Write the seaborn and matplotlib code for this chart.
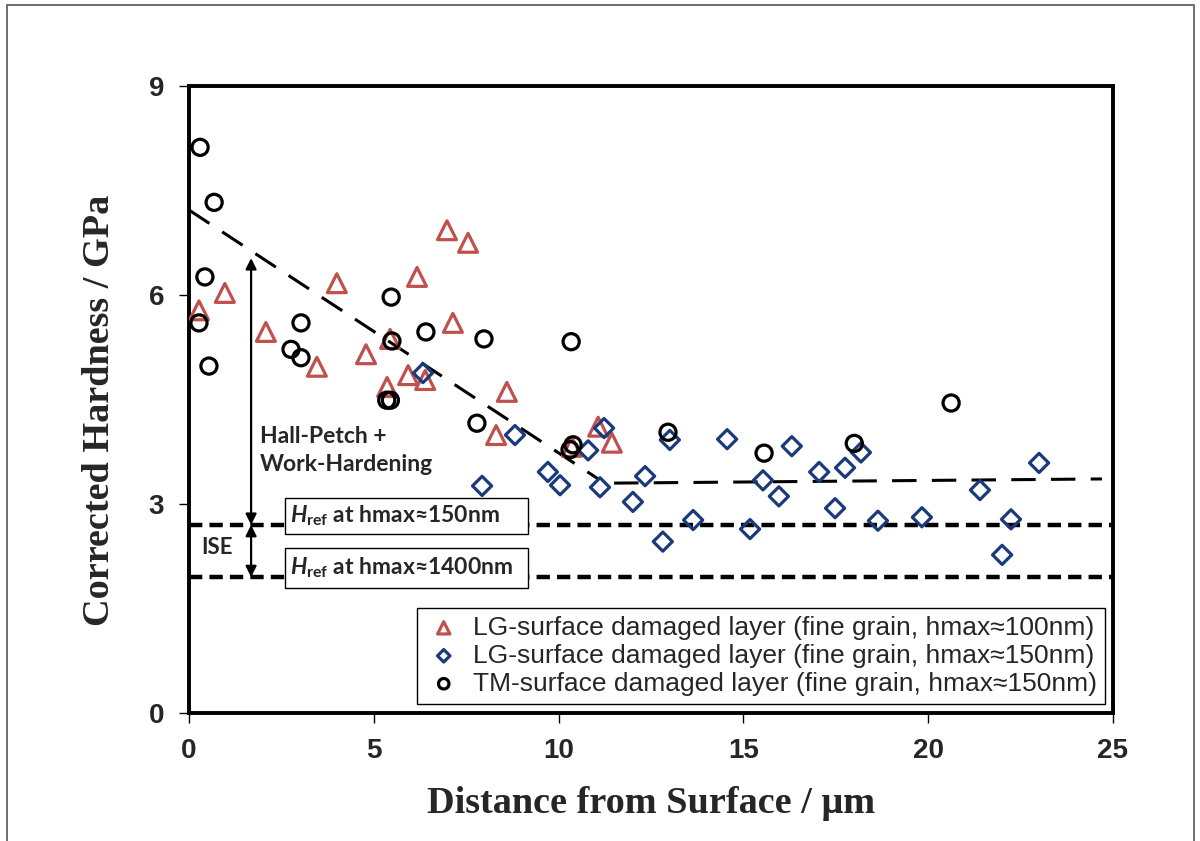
import matplotlib
matplotlib.use('Agg')
import pandas as pd
import matplotlib.pyplot as plt
import seaborn as sns
from matplotlib.patches import Rectangle

# LG-surface damaged layer, hmax~100nm (triangles)
lg100_x = [0.27, 0.97, 2.08, 3.46, 4.00, 4.79, 5.36, 5.44, 5.93, 6.17, 6.39,
           6.98, 7.14, 7.55, 8.31, 8.60, 10.36, 11.07, 11.44]
lg100_y = [5.78, 6.03, 5.47, 4.97, 6.17, 5.15, 4.68, 5.37, 4.85, 6.26, 4.78,
           6.93, 5.60, 6.75, 3.99, 4.61, 3.82, 4.11, 3.88]

# LG-surface damaged layer, hmax~150nm (diamonds)
lg150_x = [6.33, 7.93, 8.82, 9.71, 10.04, 10.80, 11.12, 11.23, 12.01, 12.34,
           12.82, 13.01, 13.64, 14.56, 15.18, 15.53, 15.96, 16.31, 17.05, 17.48,
           17.75, 18.18, 18.64, 19.83, 21.40, 22.00, 22.24, 23.00]
lg150_y = [4.88, 3.26, 3.99, 3.46, 3.27, 3.77, 3.24, 4.09, 3.03, 3.40,
           2.46, 3.92, 2.77, 3.93, 2.64, 3.34, 3.11, 3.83, 3.46, 2.94,
           3.52, 3.74, 2.76, 2.81, 3.20, 2.27, 2.78, 3.59]

# TM-surface damaged layer, hmax~150nm (circles)
tm150_x = [0.30, 0.68, 0.43, 0.27, 0.54, 2.76, 3.03, 3.03, 5.47, 5.49, 6.41,
           5.35, 5.45, 7.98, 10.34, 7.79, 10.39, 10.31, 12.96, 15.56, 18.00, 20.62]
tm150_y = [8.12, 7.33, 6.26, 5.60, 4.98, 5.22, 5.60, 5.10, 5.97, 5.34, 5.47,
           4.49, 4.49, 5.37, 5.33, 4.16, 3.85, 3.78, 4.03, 3.73, 3.87, 4.45]

# trend lines and reference hardness levels
trend1_x = [0.0, 11.1]
trend1_y = [7.22, 3.35]
trend2_x = [11.5, 24.7]
trend2_y = [3.30, 3.36]
href_150 = 2.70
href_1400 = 1.95

labels = ['LG-surface damaged layer (fine grain, hmax≈100nm)',
          'LG-surface damaged layer (fine grain, hmax≈150nm)',
          'TM-surface damaged layer (fine grain, hmax≈150nm)']

df = pd.concat([
    pd.DataFrame({'x': lg100_x, 'y': lg100_y, 'set': labels[0]}),
    pd.DataFrame({'x': lg150_x, 'y': lg150_y, 'set': labels[1]}),
    pd.DataFrame({'x': tm150_x, 'y': tm150_y, 'set': labels[2]}),
])

sns.set_theme(style='white')
plt.rcParams['font.family'] = ['Liberation Sans', 'DejaVu Sans']
plt.rcParams['mathtext.fontset'] = 'custom'
plt.rcParams['mathtext.it'] = 'Lato:italic:bold'
plt.rcParams['mathtext.rm'] = 'Lato:bold'

fig = plt.figure(figsize=(12, 8.41), dpi=100)
ax = fig.add_axes([0.1575, 0.1522, 0.77, 0.7455])

styles = {labels[0]: ('^', '#C0504D', 185),
          labels[1]: ('D', '#1B3A7A', 95),
          labels[2]: ('o', 'black', 135)}

for lab in labels:
    m, c, s = styles[lab]
    sub = df[df['set'] == lab]
    sns.scatterplot(data=sub, x='x', y='y', ax=ax, marker=m, s=s,
                    facecolor='none', edgecolor=c, linewidth=2.3,
                    label=lab, zorder=3)

ax.plot(trend1_x, trend1_y, color='black', lw=2.2, ls=(0, (8, 5)), zorder=2)
ax.plot(trend2_x, trend2_y, color='black', lw=2.2, ls=(0, (8, 5)), zorder=2)
ax.axhline(href_150, color='black', lw=3.2, ls=(0, (3.0, 1.6)), zorder=2)
ax.axhline(href_1400, color='black', lw=3.2, ls=(0, (3.0, 1.6)), zorder=2)

# reference boxes
for y0, y1, txt in [(2.57, 3.09, r'$\mathit{H}_{\mathrm{ref}}$ at hmax≈150nm'),
                    (1.79, 2.37, r'$\mathit{H}_{\mathrm{ref}}$ at hmax≈1400nm')]:
    ax.add_patch(Rectangle((2.6, y0), 6.57, y1 - y0, facecolor='white',
                           edgecolor='black', lw=1, zorder=4))
    ax.text(2.72, (y0 + y1) / 2, txt, fontsize=16.5, fontfamily='Lato',
            fontweight='bold', va='center', ha='left', zorder=5)

# arrows
ax.annotate('', xy=(1.68, href_150), xytext=(1.68, 6.53),
            arrowprops=dict(arrowstyle='<|-|>', color='black', lw=1.6,
                            shrinkA=0, shrinkB=0, mutation_scale=16), zorder=5)
ax.annotate('', xy=(1.68, href_1400), xytext=(1.68, href_150),
            arrowprops=dict(arrowstyle='<|-|>', color='black', lw=1.6,
                            shrinkA=0, shrinkB=0, mutation_scale=16), zorder=5)
ax.text(1.92, 3.77, 'Hall-Petch +\nWork-Hardening', fontsize=16.5, fontfamily='Lato',
        fontweight='bold', va='center', ha='left', linespacing=1.4)
ax.text(0.76, 2.38, 'ISE', fontsize=16, fontfamily='Lato', fontweight='bold',
        va='center', ha='center')

ax.set_xlim(0, 25)
ax.set_ylim(0, 9)
ax.set_xticks([0, 5, 10, 15, 20, 25])
ax.set_yticks([0, 3, 6, 9])
ax.tick_params(direction='out', length=7, width=1, color='black', pad=11,
               labelsize=20, bottom=True, left=True)
for t in ax.get_xticklabels() + ax.get_yticklabels():
    t.set_fontweight('bold')
for sp in ax.spines.values():
    sp.set_linewidth(2.8)
    sp.set_color('black')

ax.set_xlabel('Distance from Surface / μm', fontsize=27.5, fontweight='bold',
              fontfamily='Liberation Serif')
ax.set_ylabel('Corrected Hardness / GPa', fontsize=27.5, fontweight='bold',
              fontfamily='Liberation Serif')
ax.xaxis.set_label_coords(0.5, -0.117)
ax.yaxis.set_label_coords(-0.078, 0.483)

leg = ax.legend(loc='lower right', bbox_to_anchor=(0.991, 0.015), fontsize=19,
                markerscale=0.65, frameon=True, fancybox=False, framealpha=1,
                edgecolor='black', borderpad=0.3, labelspacing=0.15,
                handlelength=1.4, handletextpad=0.4, borderaxespad=0)
leg.get_frame().set_linewidth(1)

fig.patches.append(Rectangle((7 / 1200, -0.01), 1187 / 1200, 1.0 - 5 / 841 + 0.01,
                             transform=fig.transFigure, fill=False,
                             edgecolor='#555555', lw=1.2))

fig.savefig('out.png', dpi=100)
